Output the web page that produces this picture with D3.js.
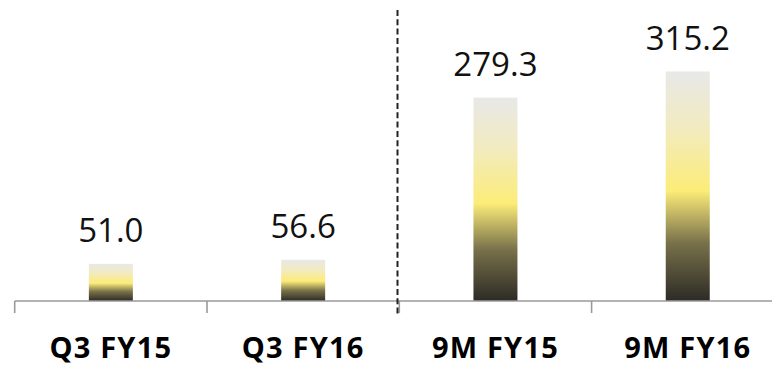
<!DOCTYPE html>
<html><head><meta charset="utf-8">
<script src="https://cdn.jsdelivr.net/npm/d3@7"></script>
<style>html,body{margin:0;padding:0;background:#fff;}svg{display:block;}</style>
</head><body>
<svg id="c" width="772" height="366"></svg>
<script>
const categories = ["Q3 FY15", "Q3 FY16", "9M FY15", "9M FY16"];
const values = [51.0, 56.6, 279.3, 315.2];
const valueLabels = ["51.0", "56.6", "279.3", "315.2"];

const svg = d3.select("#c");
const x0 = 14.7, bw = 192.3;
const x = d3.scaleBand().domain(categories).range([x0, x0 + bw * 4]).paddingInner(0).paddingOuter(0);
const y = d3.scaleLinear().domain([0, 315.2]).range([301, 71.5]);

const defs = svg.append("defs");
const g = defs.append("linearGradient").attr("id", "grad").attr("x1", 0).attr("y1", 1).attr("x2", 0).attr("y2", 0);
[[0, "#2c2b25"], [0.25, "#77704a"], [0.48, "#fcec78"], [0.75, "#f2ebbf"], [1, "#e8e8e8"]].forEach(s =>
  g.append("stop").attr("offset", s[0]).attr("stop-color", s[1]));

const barW = 44;
svg.selectAll("rect.bar").data(values).enter().append("rect")
  .attr("class", "bar")
  .attr("x", (d, i) => x(categories[i]) + x.bandwidth() / 2 - barW / 2)
  .attr("y", d => y(d))
  .attr("width", barW)
  .attr("height", d => y(0) - y(d))
  .attr("fill", "url(#grad)");

// axis
const axis = svg.append("g");
axis.append("line").attr("x1", x0).attr("x2", 772).attr("y1", y(0)).attr("y2", y(0))
  .attr("stroke", "#9a9a9a").attr("stroke-width", 1.6);
const tickXs = categories.map(c => x(c)).concat([x0 + bw * 4]);
axis.selectAll("line.tick").data(tickXs).enter().append("line")
  .attr("x1", d => d).attr("x2", d => d).attr("y1", y(0)).attr("y2", y(0) + 12)
  .attr("stroke", "#9a9a9a").attr("stroke-width", 1.6);

// dashed separator
svg.append("line").attr("x1", 397.5).attr("x2", 397.5).attr("y1", 10).attr("y2", 314)
  .attr("stroke", "#222").attr("stroke-width", 2).attr("stroke-dasharray", "6,3.3");

// value labels
svg.selectAll("text.val").data(values).enter().append("text")
  .attr("x", (d, i) => x(categories[i]) + x.bandwidth() / 2)
  .attr("y", d => y(d) - 21.5)
  .attr("text-anchor", "middle")
  .attr("font-family", "'Open Sans', sans-serif")
  .attr("font-size", 33)
  .attr("fill", "#111")
  .text((d, i) => valueLabels[i]);

// category labels
svg.selectAll("text.cat").data(categories).enter().append("text")
  .attr("x", d => x(d) + x.bandwidth() / 2)
  .attr("y", 358)
  .attr("text-anchor", "middle")
  .attr("font-family", "'Open Sans', sans-serif")
  .attr("font-weight", "bold")
  .attr("font-size", 29)
  .attr("letter-spacing", 1.2)
  .attr("fill", "#000")
  .text(d => d);
</script>
</body></html>
